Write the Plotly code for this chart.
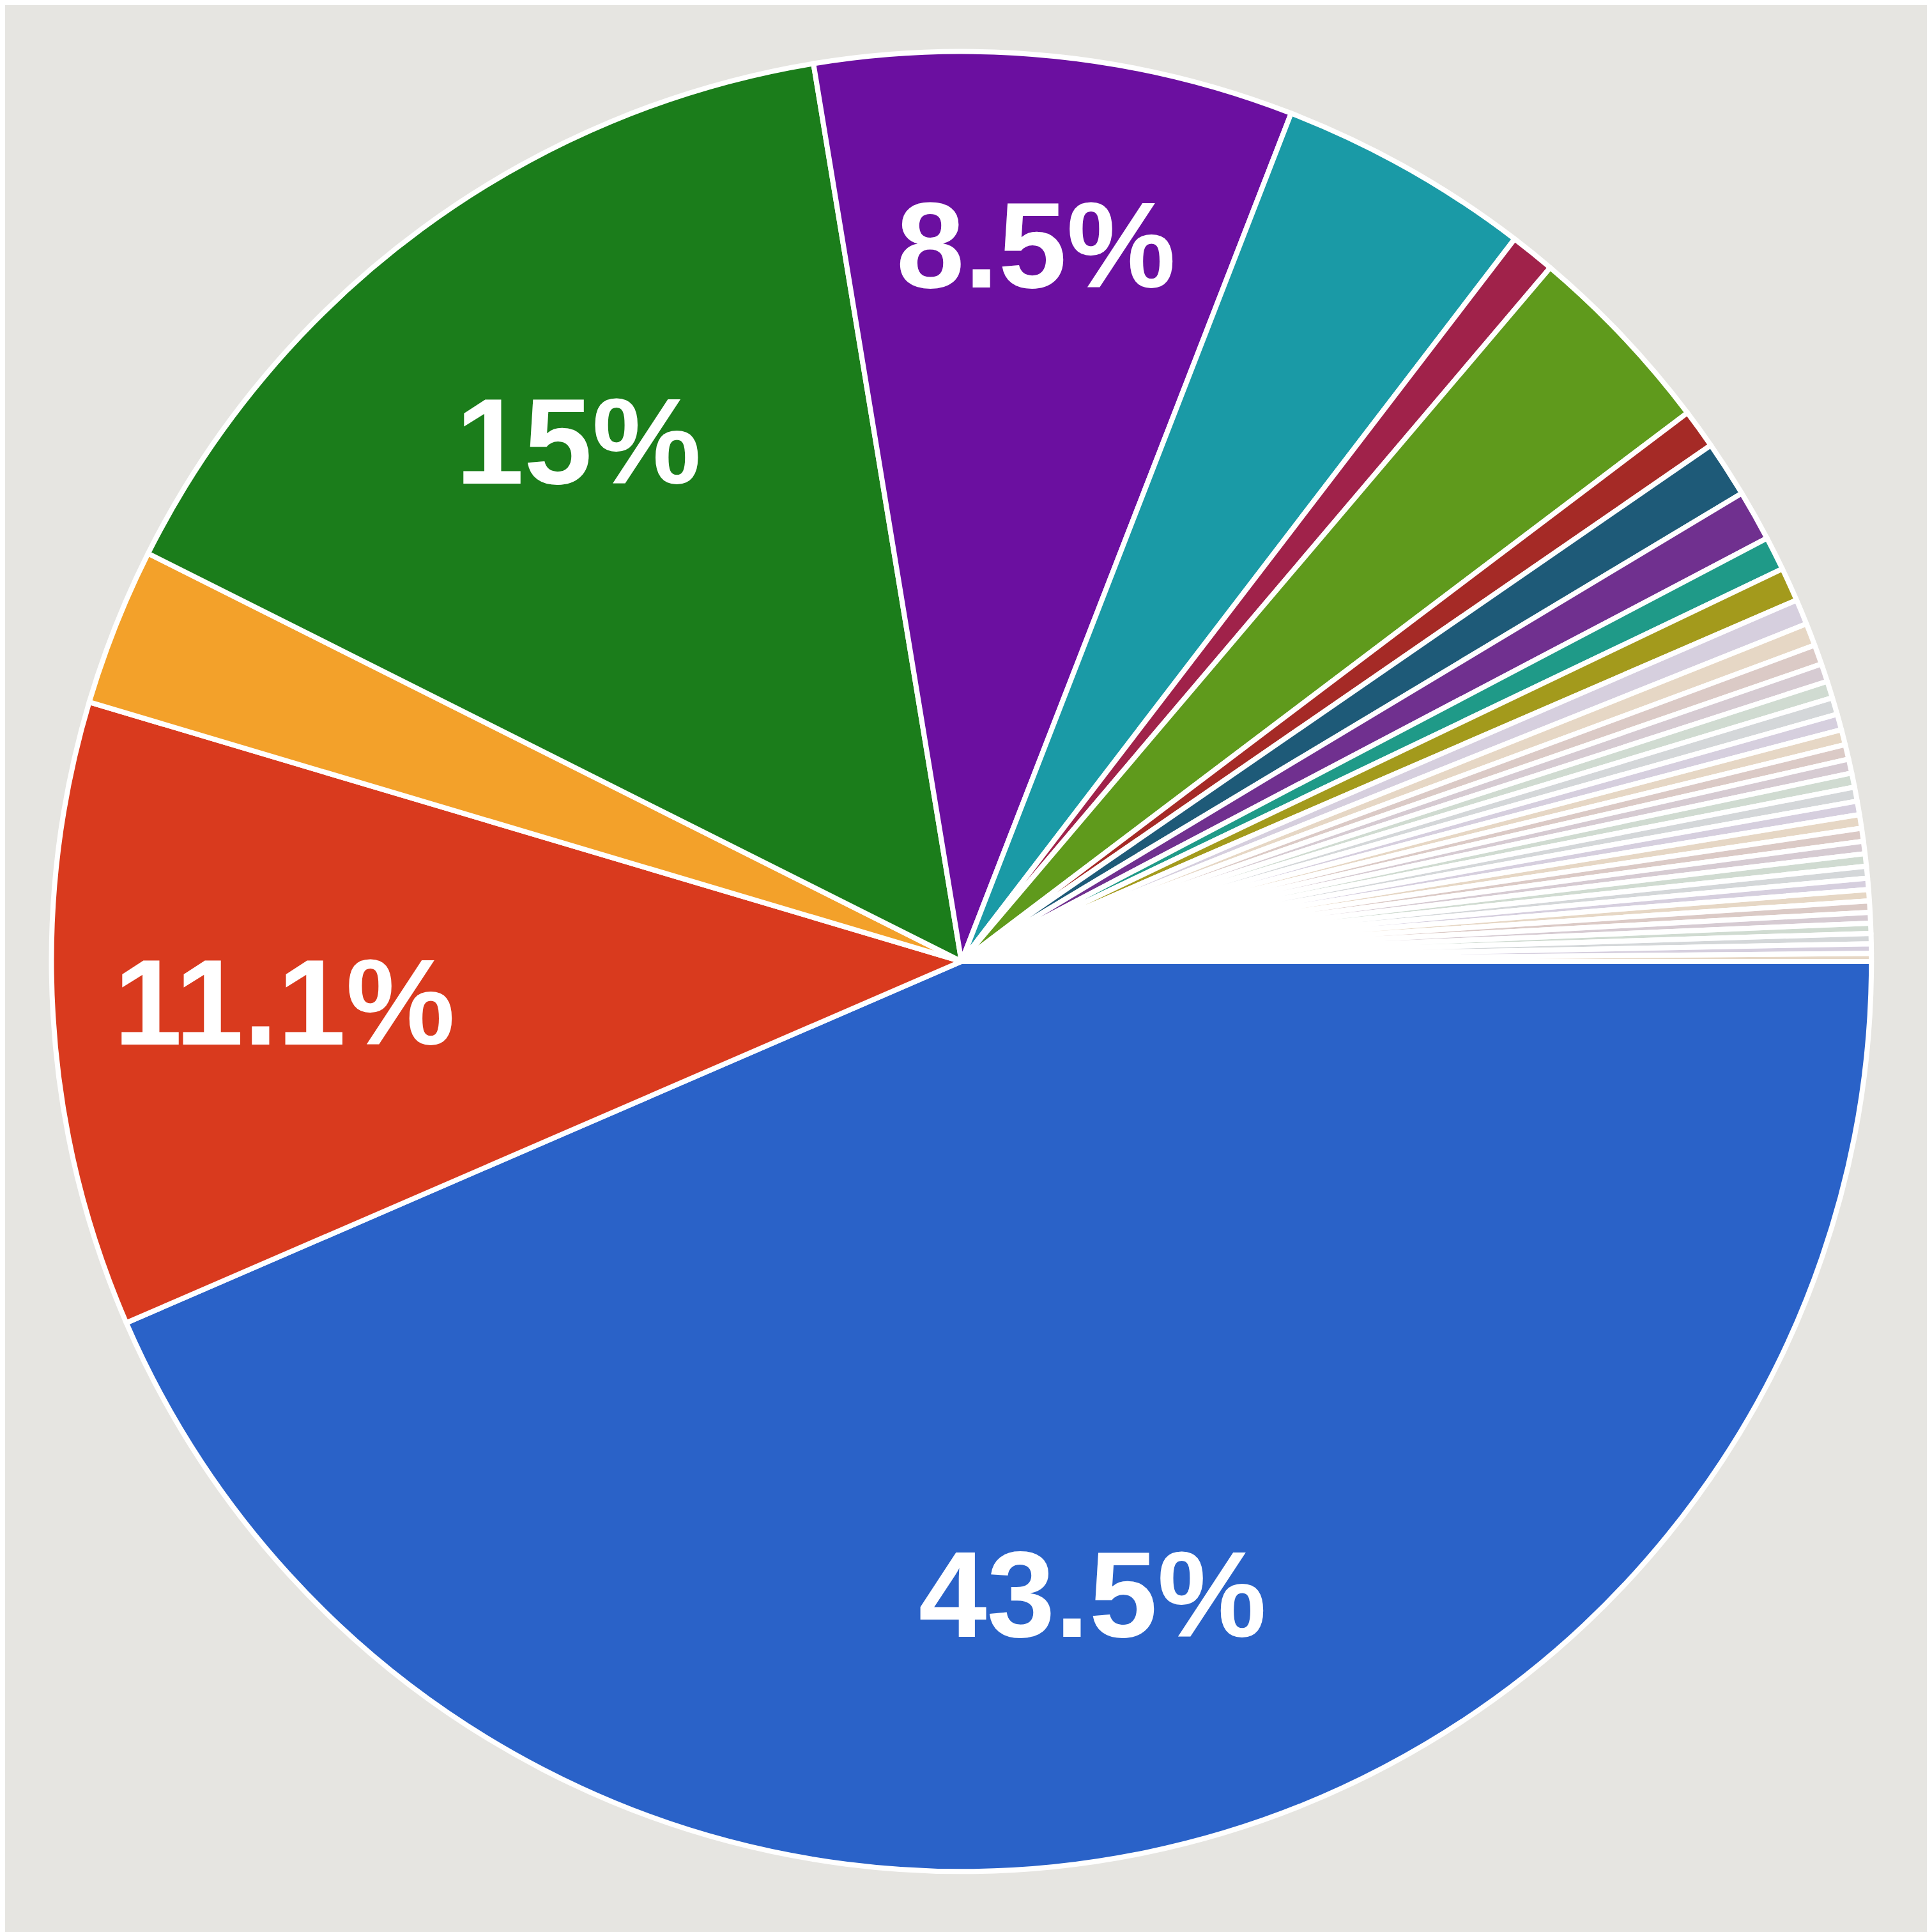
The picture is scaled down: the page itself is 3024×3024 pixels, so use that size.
import plotly.graph_objects as go

# ---- data (percent shares) ----
categories = [
    "A", "B", "C", "D", "E", "F", "G", "H", "I", "J", "K", "L", "M",
    "N1", "N2", "N3", "N4", "N5", "N6", "N7", "N8", "N9", "N10", "N11", "N12", "N13",
    "N14", "N15", "N16", "N17", "N18", "N19", "N20", "N21", "N22", "N23", "N24", "N25", "N26",
]
main_values = [43.5, 11.1, 2.8, 15.0, 8.5, 4.5, 0.8, 3.5, 0.7, 1.0, 0.9, 0.6, 0.6]
tiny_values = [0.45, 0.4, 0.35, 0.32, 0.3, 0.3, 0.28, 0.27, 0.26, 0.25, 0.25, 0.25, 0.24,
               0.24, 0.23, 0.22, 0.22, 0.21, 0.2, 0.2, 0.2, 0.19, 0.18, 0.18, 0.17, 0.14]
labelled = ["A", "B", "D", "E"]

# ---- styling ----
main_colors = ["#2a62c8", "#d93a1e", "#f3a12a", "#1b7d1b", "#6b0fa0", "#1a9aa6",
               "#a0224a", "#5f9a1c", "#a52a26", "#1e5a78", "#70308f", "#1f9a88", "#a39a1c"]
tiny_palette = ["rgba(102,51,204,0.12)", "rgba(230,115,0,0.12)", "rgba(139,7,7,0.12)",
                "rgba(101,16,103,0.12)", "rgba(50,146,98,0.12)", "rgba(85,116,166,0.12)"]
tiny_colors = [tiny_palette[i % len(tiny_palette)] for i in range(len(tiny_values))]

values = main_values + tiny_values
colors = main_colors + tiny_colors
templates = ["<b>%{percent}</b>" if c in labelled else "" for c in categories]

domain = dict(x=[0.024, 0.966], y=[0.034, 0.976])

fig = go.Figure()
# slices
fig.add_trace(go.Pie(
    labels=categories,
    values=values,
    sort=False,
    direction="clockwise",
    rotation=90,
    marker=dict(colors=colors, line=dict(color="#ffffff", width=8)),
    textinfo="none",
    hoverinfo="label+percent",
    domain=domain,
    showlegend=False,
))
# percentage labels, placed further out like the original chart
fig.add_trace(go.Pie(
    labels=categories,
    values=values,
    sort=False,
    direction="clockwise",
    rotation=90,
    hole=0.42,
    marker=dict(colors=["rgba(0,0,0,0)"] * len(values), line=dict(width=0)),
    texttemplate=templates,
    textposition="inside",
    insidetextorientation="horizontal",
    insidetextfont=dict(color="#ffffff", size=192, family="Liberation Sans, Arial"),
    hoverinfo="skip",
    domain=domain,
    showlegend=False,
))

fig.update_layout(
    width=3024, height=3024,
    margin=dict(l=0, r=0, t=0, b=0),
    paper_bgcolor="#e6e5e1",
    plot_bgcolor="#e6e5e1",
    font=dict(family="Liberation Sans, Arial"),
)

fig.write_html("out.html")
